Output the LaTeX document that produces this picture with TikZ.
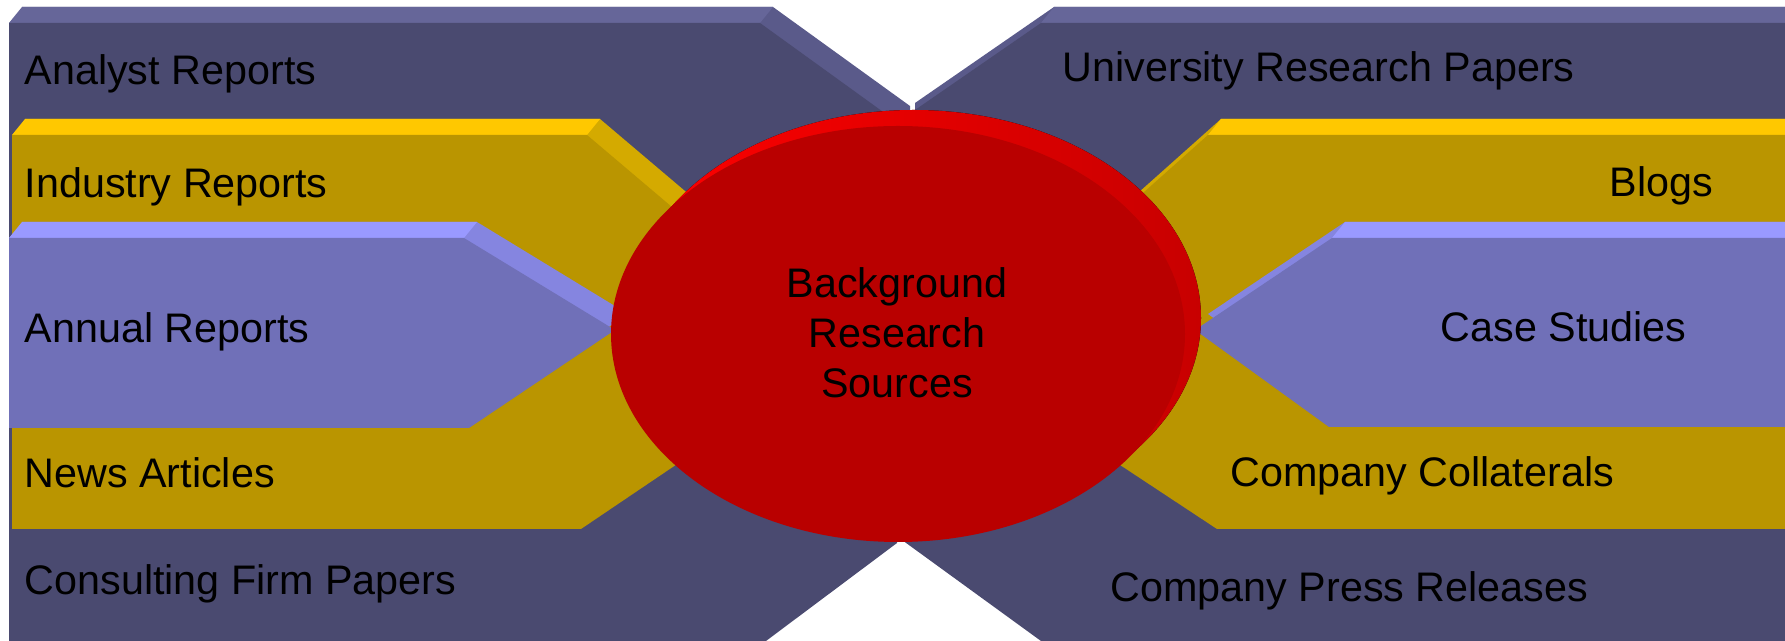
\documentclass[tikz,border=0pt]{standalone}
\usepackage{fontspec}
\setmainfont{Liberation Sans}

\definecolor{darkfront}{RGB}{74,74,112}
\definecolor{darktop}{RGB}{102,102,153}
\definecolor{darkside}{RGB}{90,90,138}
\definecolor{goldfront}{RGB}{186,149,0}
\definecolor{goldtop}{RGB}{255,200,0}
\definecolor{goldside}{RGB}{212,170,0}
\definecolor{lavfront}{RGB}{112,112,184}
\definecolor{lavtop}{RGB}{153,153,255}
\definecolor{lavside}{RGB}{133,133,224}
\definecolor{hubfront}{RGB}{185,0,0}
\definecolor{rimlight}{RGB}{255,0,0}
\definecolor{rimdark}{RGB}{200,0,0}

\begin{document}
\begin{tikzpicture}[x=0.1mm, y=-0.1mm]
	\tikzset{source/.style = {anchor=base west, inner sep=0pt, font=\fontsize{11.75}{14.2}\selectfont}}
	\tikzset{hub/.style = {align=center, inner sep=0pt, font=\fontsize{11.75}{14.2}\selectfont}}
	\tikzset{back/.style = {shift={(13,-16)}}}
	\useasboundingbox (0,0) rectangle (1785,641);
	\clip (0,0) rectangle (1785,641);
	% dark bands
	\fill[darkside, back] (9,23) -- (760,23) -- (897,122) -- (897,543) -- (766,641) -- (9,641) -- cycle;
	\fill[darktop] (9,23) -- (760,23) -- (773,7) -- (22,7) -- cycle;
	\fill[darkfront] (9,23) -- (760,23) -- (897,122) -- (897,543) -- (766,641) -- (9,641) -- cycle;
	\fill[darkside, back] (902,119) -- (1041,23) -- (1800,23) -- (1800,660) -- (1041,641) -- (902,540) -- cycle;
	\fill[darktop] (1041,23) -- (1800,23) -- (1813,7) -- (1054,7) -- cycle;
	\fill[darkfront] (902,119) -- (1041,23) -- (1800,23) -- (1800,660) -- (1041,641) -- (902,540) -- cycle;
	% gold bands
	\fill[goldside, back] (12,135) -- (587,135) -- (843,352) -- (581,529) -- (12,529) -- cycle;
	\fill[goldtop] (12,135) -- (587,135) -- (600,119) -- (25,119) -- cycle;
	\fill[goldfront] (12,135) -- (587,135) -- (843,352) -- (581,529) -- (12,529) -- cycle;
	\fill[goldside, back] (958,358) -- (1208,135) -- (1800,135) -- (1800,529) -- (1217,529) -- cycle;
	\fill[goldtop] (1208,135) -- (1800,135) -- (1813,119) -- (1221,119) -- cycle;
	\fill[goldfront] (958,358) -- (1208,135) -- (1800,135) -- (1800,529) -- (1217,529) -- cycle;
	% lavender bands
	\fill[lavside, back] (9,238) -- (464,238) -- (615,330) -- (469,428) -- (9,428) -- cycle;
	\fill[lavtop] (9,238) -- (464,238) -- (477,222) -- (22,222) -- cycle;
	\fill[lavfront] (9,238) -- (464,238) -- (615,330) -- (469,428) -- (9,428) -- cycle;
	\fill[lavside, back] (1195,330) -- (1332,238) -- (1800,238) -- (1800,427) -- (1329,427) -- cycle;
	\fill[lavtop] (1332,238) -- (1800,238) -- (1813,222) -- (1345,222) -- cycle;
	\fill[lavfront] (1195,330) -- (1332,238) -- (1800,238) -- (1800,427) -- (1329,427) -- cycle;
	% hub
	\fill[left color=rimlight, right color=rimdark] (914,318) ellipse (287 and 208);
	\fill[hubfront] (898,334) ellipse (287 and 208);
	\node[hub] (hub) at (897,333) {Background\\Research\\Sources};
	% sources
	\node[source] (analyst) at (24,85) {Analyst Reports};
	\node[source] (industry) at (24,198) {Industry Reports};
	\node[source] (annual) at (24,343) {Annual Reports};
	\node[source] (news) at (24,488) {News Articles};
	\node[source] (consulting) at (24,595) {Consulting Firm Papers};
	\node[source] (university) at (1062,82) {University Research Papers};
	\node[source] (blogs) at (1609,197) {Blogs};
	\node[source] (cases) at (1440,342) {Case Studies};
	\node[source] (collaterals) at (1230,487) {Company Collaterals};
	\node[source] (press) at (1110,602) {Company Press Releases};
\end{tikzpicture}
\end{document}
